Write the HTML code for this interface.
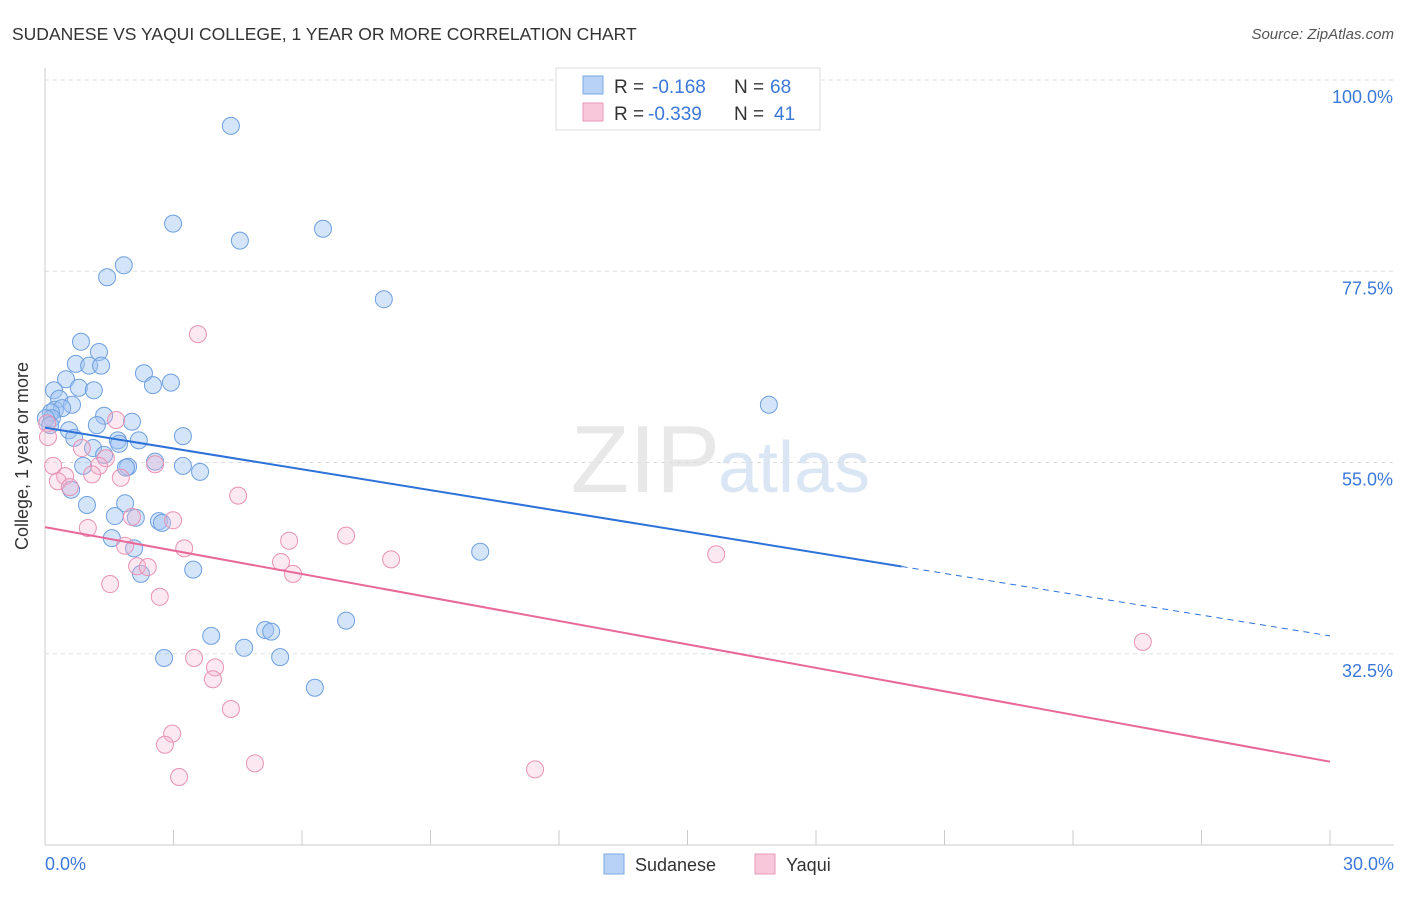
<!DOCTYPE html>
<html><head><meta charset="utf-8">
<style>
body{margin:0;background:#fff;font-family:"Liberation Sans",sans-serif;}
svg text{font-family:"Liberation Sans",sans-serif;}
</style></head>
<body>
<svg id="chart" width="1406" height="892" xmlns="http://www.w3.org/2000/svg">
<text x="12" y="40" font-size="17.5" fill="#333">SUDANESE VS YAQUI COLLEGE, 1 YEAR OR MORE CORRELATION CHART</text>
<text x="1394" y="39" font-size="15" fill="#555" text-anchor="end" font-style="italic">Source: ZipAtlas.com</text>
<text x="720" y="492" font-size="96" fill="#e8e8e8" text-anchor="end" font-family="Liberation Serif">ZIP</text>
<text x="718" y="492" font-size="72" fill="#dbe6f5">atlas</text>
<g id="grid"></g>
<g id="axes"></g>
<g id="pts"></g>
<g id="lines"></g>
<text x="28" y="456" font-size="18" fill="#333" text-anchor="middle" transform="rotate(-90 28 456)">College, 1 year or more</text>
<text x="45" y="870" font-size="18" fill="#3b78d8">0.0%</text>
<text x="1394" y="870" font-size="18" fill="#3b78d8" text-anchor="end">30.0%</text>
<g>
<rect x="556" y="68" width="264" height="62" fill="#fff" stroke="#ddd"/>
<rect x="583" y="76" width="20" height="18" fill="#b8d2f5" stroke="#7aaae6"/>
<rect x="583" y="103" width="20" height="18" fill="#f8c8da" stroke="#e899b8"/>
<text x="614" y="93" font-size="19" fill="#333">R = <tspan x="652" fill="#3b78d8">-0.168</tspan><tspan x="734">N = </tspan><tspan x="770" fill="#3b78d8">68</tspan></text>
<text x="614" y="120" font-size="19" fill="#333">R = <tspan x="648" fill="#3b78d8">-0.339</tspan><tspan x="734">N = </tspan><tspan x="774" fill="#3b78d8">41</tspan></text>
</g>
<g>
<rect x="604" y="854" width="20" height="20" fill="#b8d2f5" stroke="#7aaae6"/>
<text x="635" y="871" font-size="18" fill="#333">Sudanese</text>
<rect x="755" y="854" width="20" height="20" fill="#f8c8da" stroke="#e899b8"/>
<text x="786" y="871" font-size="18" fill="#333">Yaqui</text>
</g>
</svg>
<script>
const yTicks=[100,77.5,55,32.5];
const yTickLabels=["100.0%","77.5%","55.0%","32.5%"];
const xTicks=[0,3,6,9,12,15,18,21,24,27,30];
const sudX=[4.34,2.99,4.55,6.49,1.84,1.45,7.91,0.84,1.26,0.72,1.03,1.31,0.49,2.31,2.52,2.94,0.79,1.14,0.21,0.33,0.63,0.23,0.40,0.14,1.38,2.03,0.16,1.21,0.56,3.22,0.68,2.19,1.70,1.73,1.12,1.38,2.57,1.94,1.89,3.22,3.62,0.89,0.61,1.87,0.98,1.63,2.12,2.66,2.73,1.56,2.08,10.16,2.24,3.46,7.03,3.88,5.14,5.28,4.65,5.49,2.78,6.30,16.90,0.02,0.12];
const sudY=[94.6,83.1,81.1,82.5,78.2,76.8,74.2,69.2,68.0,66.6,66.4,66.4,64.8,65.5,64.1,64.4,63.8,63.5,63.5,62.5,61.8,61.2,61.4,60.9,60.5,59.8,60.2,59.4,58.8,58.1,57.9,57.6,57.6,57.2,56.7,55.9,55.1,54.5,54.4,54.6,53.9,54.6,51.8,50.2,50.0,48.7,48.5,48.1,47.9,46.1,44.9,44.5,41.9,42.4,36.4,34.6,35.3,35.1,33.2,32.1,32.0,28.5,61.8,60.2,59.4];
const yaqX=[3.57,1.66,0.05,0.07,0.86,1.42,2.57,1.26,0.19,0.47,1.10,1.77,0.30,0.58,4.51,2.03,2.99,1.00,7.03,5.70,3.25,1.87,8.08,15.67,5.51,2.15,2.40,5.79,1.52,2.68,25.63,3.48,3.97,3.92,4.34,2.97,2.80,4.90,11.44,3.13];
const yaqY=[70.1,60.0,59.6,58.0,56.7,55.5,54.8,54.6,54.6,53.4,53.6,53.2,52.8,52.1,51.1,48.6,48.2,47.3,46.4,45.8,44.9,45.2,43.6,44.2,43.3,42.8,42.7,41.9,40.7,39.2,33.9,32.0,30.9,29.5,26.0,23.1,21.8,19.6,18.9,18.0];
const sudTrend=[59.1,34.6];
const yaqTrend=[47.4,19.8];
const NS="http://www.w3.org/2000/svg";
const X=v=>45+v/30*1285;
const Y=v=>80+(100-v)*8.5;
function mk(tag,attrs,parent){const e=document.createElementNS(NS,tag);for(const k in attrs)e.setAttribute(k,attrs[k]);document.getElementById(parent).appendChild(e);return e;}
yTicks.forEach((t,i)=>{
 const l=mk('line',{x1:45,x2:1394,y1:Y(t),y2:Y(t),stroke:'#ddd','stroke-dasharray':'4,4'},'grid');
 
 
 const tx=mk('text',{x:1393,y:Y(t)+23,'font-size':18,fill:'#3b78d8','text-anchor':'end'},'grid');
 tx.textContent=yTickLabels[i];
 
 
});
const ax=mk('line',{x1:45,x2:1394,y1:845,y2:845,stroke:'#ccc'},'axes');


const ay=mk('line',{x1:45,x2:45,y1:68,y2:845,stroke:'#ccc'},'axes');


xTicks.forEach(t=>{
 const l=mk('line',{x1:X(t),x2:X(t),y1:830,y2:845,stroke:'#ccc'},'axes');
 
 
});
sudX.forEach((v,i)=>{
 const c=mk('circle',{cx:X(v),cy:Y(sudY[i]),r:8.5,fill:'rgba(160,196,242,0.45)',stroke:'#6fa0e0','stroke-width':1},'pts');
 
 
});
yaqX.forEach((v,i)=>{
 const c=mk('circle',{cx:X(v),cy:Y(yaqY[i]),r:8.5,fill:'rgba(245,180,205,0.3)',stroke:'#e892b4','stroke-width':1},'pts');
 
 
});
const sAt=x=>sudTrend[0]+(sudTrend[1]-sudTrend[0])*x/30;
const l1=mk('line',{x1:X(0),y1:Y(sAt(0)),x2:X(20),y2:Y(sAt(20)),stroke:'#2d72d9','stroke-width':2},'lines');


const l2=mk('line',{x1:X(20),y1:Y(sAt(20)),x2:X(30),y2:Y(sAt(30)),stroke:'#2d72d9','stroke-width':1,'stroke-dasharray':'6,5'},'lines');


const l3=mk('line',{x1:X(0),y1:Y(yaqTrend[0]),x2:X(30),y2:Y(yaqTrend[1]),stroke:'#e8689a','stroke-width':2},'lines');


</script>
</body></html>
